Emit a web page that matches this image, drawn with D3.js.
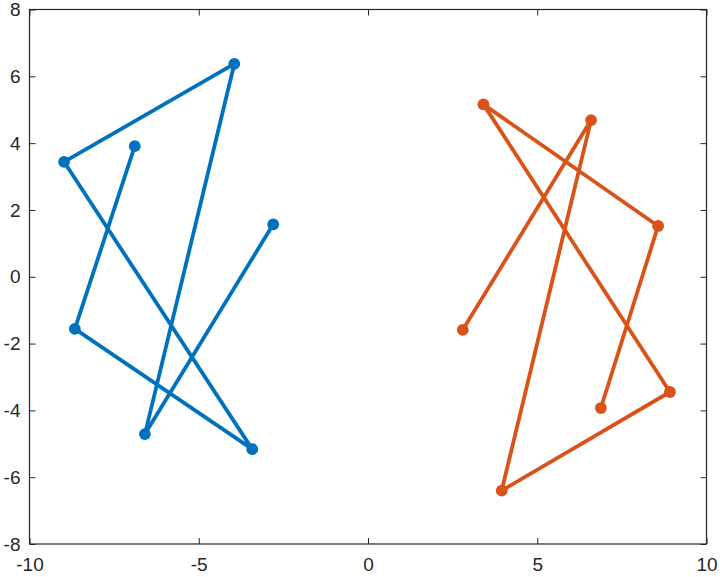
<!DOCTYPE html>
<html>
<head>
<meta charset="utf-8">
<script src="https://cdn.jsdelivr.net/npm/d3@7"></script>
<style>
  html, body { margin: 0; padding: 0; background: #fff; }
  svg { display: block; }
  text { font-family: "Liberation Sans", Arial, Helvetica, sans-serif; }
</style>
</head>
<body>
<svg id="chart" width="720" height="577"></svg>
<script>
// Data
const blueX = [-6.89, -8.66, -3.42, -8.98, -3.95, -6.59, -2.80];
const blueY = [3.91, -1.56, -5.16, 3.44, 6.37, -4.71, 1.57];
const orangeX = [2.80, 6.59, 3.95, 8.92, 3.41, 8.57, 6.88];
const orangeY = [-1.59, 4.69, -6.40, -3.45, 5.16, 1.52, -3.93];
const xTicks = [-10, -5, 0, 5, 10];
const yTicks = [-8, -6, -4, -2, 0, 2, 4, 6, 8];

const seriesList = [
  { xs: blueX, ys: blueY, color: "#0072BD" },
  { xs: orangeX, ys: orangeY, color: "#D95319" }
];

const svg = d3.select("#chart");
const pLeft = 29.5, pRight = 706.5, pTop = 9.5, pBottom = 544;

const x = d3.scaleLinear().domain([-10, 10]).range([pLeft, pRight]);
const y = d3.scaleLinear().domain([-8, 8]).range([pBottom, pTop]);

const axisColor = "#262626";
const tickLen = 6;

// Series
const line = d3.line().x(d => x(d[0])).y(d => y(d[1]));
seriesList.forEach(s => {
  const pts = s.xs.map((v, i) => [v, s.ys[i]]);
  svg.append("path")
    .datum(pts)
    .attr("d", line)
    .attr("fill", "none")
    .attr("stroke", s.color)
    .attr("stroke-width", 3.8)
    .attr("stroke-linejoin", "round")
    .attr("stroke-linecap", "round");
  svg.selectAll(null)
    .data(pts)
    .enter().append("circle")
    .attr("cx", d => x(d[0]))
    .attr("cy", d => y(d[1]))
    .attr("r", 5.9)
    .attr("fill", s.color);
});

// Axes (box with mirrored inward ticks)
const fmt = d => String(d);
const xAxisB = d3.axisBottom(x).tickValues(xTicks).tickSizeInner(-tickLen).tickSizeOuter(0).tickPadding(14).tickFormat(fmt);
const xAxisT = d3.axisTop(x).tickValues(xTicks).tickSizeInner(-tickLen).tickSizeOuter(0).tickFormat("");
const yAxisL = d3.axisLeft(y).tickValues(yTicks).tickSizeInner(-tickLen).tickSizeOuter(0).tickPadding(9).tickFormat(fmt);
const yAxisR = d3.axisRight(y).tickValues(yTicks).tickSizeInner(-tickLen).tickSizeOuter(0).tickFormat("");

function style(g) {
  g.attr("font-size", null).attr("font-family", null);
  g.select(".domain").remove();
  g.selectAll("line").attr("stroke", axisColor).attr("stroke-width", 1);
  g.selectAll("text").attr("fill", axisColor).style("font-size", "19px");
}

svg.append("g").attr("transform", `translate(0,${pBottom})`).call(xAxisB).call(style);
svg.append("g").attr("transform", `translate(0,${pTop})`).call(xAxisT).call(style);
svg.append("g").attr("transform", `translate(${pLeft},0)`).call(yAxisL).call(style);
svg.append("g").attr("transform", `translate(${pRight},0)`).call(yAxisR).call(style);

svg.append("rect")
  .attr("x", pLeft).attr("y", pTop)
  .attr("width", pRight - pLeft).attr("height", pBottom - pTop)
  .attr("fill", "none").attr("stroke", axisColor).attr("stroke-width", 1.2);
</script>
</body>
</html>
